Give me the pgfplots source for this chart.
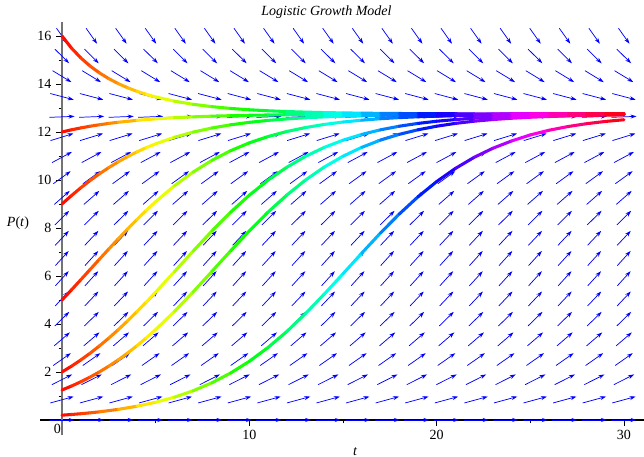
\documentclass[border=0pt]{standalone}
\usepackage{fontspec}
\setmainfont{Liberation Serif}
\usepackage{pgfplots}
\usepackage{pgfplotstable}
\pgfplotsset{compat=1.18}
\usetikzlibrary{arrows.meta}

% direction field: one row per P level, normalised arrow components (u,v)
\pgfplotstableread{
y u v
0 1.342 0
0.8421 1.247 0.265
1.6842 1.079 0.426
2.5263 0.937 0.513
3.3684 0.836 0.560
4.2105 0.770 0.586
5.0526 0.729 0.601
5.8947 0.710 0.608
6.7368 0.709 0.608
7.5789 0.726 0.602
8.4211 0.763 0.589
9.2632 0.825 0.565
10.1053 0.920 0.521
10.9474 1.056 0.442
11.7895 1.224 0.294
12.6316 1.340 0.042
13.4737 1.252 -0.258
14.3158 1.002 -0.476
15.1579 0.762 -0.589
16 0.585 -0.644
}\field

\pgfplotsset{
  colormap={maplehue}{rgb255(0cm)=(255,0,0) rgb255(1cm)=(255,255,0) rgb255(2cm)=(0,255,0)
    rgb255(3cm)=(0,255,255) rgb255(4cm)=(0,0,255) rgb255(5cm)=(255,0,255) rgb255(6cm)=(255,0,0)},
  solcurve/.style={mesh, point meta=x, line width=2.3pt, line cap=round, line join=round},
}

\begin{document}
\begin{tikzpicture}
\begin{axis}[
    x=14.05pt, y=18pt,
    xmin=-1.17, xmax=31.07, ymin=-0.63, ymax=16.6,
    axis lines=middle,
    clip=false,
    x axis line style={-, black, line width=0.8pt},
    y axis line style={-, black!55, line width=1.3pt},
    xtick={10,20,30}, minor xtick={5,15,25},
    extra x ticks={0},
    extra x tick style={xticklabel style={xshift=-3.5pt}, major tick length=0pt},
    ytick={2,4,...,16}, minor ytick={1,3,...,15},
    hide obscured x ticks=false,
    tick align=outside,
    major tick length=4.5pt, minor tick length=2.5pt,
    tick style={black, line width=0.6pt},
    ticklabel style={font=\rmfamily\fontsize{10.5}{12}\selectfont},
    /pgf/number format/assume math mode=true,
    colormap name=maplehue,
    point meta min=0, point meta max=30,
]
\pgfplotsinvokeforeach{0,...,19}{
  \addplot[blue, line width=0.55pt, -{Stealth[length=4.5pt,width=3pt]},
    quiver={u=\thisrow{u}, v=\thisrow{v}}]
    table[x expr={#1*30/19-0.5*\thisrow{u}}, y expr={\thisrow{y}-0.5*\thisrow{v}}] {\field};
}

\addplot[solcurve] coordinates {(0,0.2) (0.5,0.2284) (1,0.2607) (1.5,0.2975) (2,0.3394) (3,0.4409) (4,0.5715) (5,0.7385) (6,0.9502) (7,1.2164) (8,1.5483) (9,1.955) (10,2.444) (11,3.022) (12,3.685) (13,4.433) (14,5.245) (15,6.091) (16,6.950) (17,7.789) (18,8.578) (19,9.297) (20,9.933) (21,10.481) (22,10.944) (23,11.322) (24,11.626) (25,11.878) (26,12.073) (27,12.226) (28,12.346) (29,12.439) (30,12.511)};

\addplot[solcurve] coordinates {(0,1.25) (0.5,1.411) (1,1.589) (1.5,1.787) (2,2.004) (2.5,2.243) (3,2.503) (3.5,2.786) (4,3.091) (4.5,3.419) (5,3.767) (6,4.520) (7,5.335) (8,6.187) (9,7.046) (10,7.879) (11,8.662) (12,9.371) (13,9.999) (14,10.539) (15,10.989) (16,11.360) (17,11.661) (18,11.901) (19,12.091) (20,12.241) (21,12.358) (22,12.449) (23,12.519) (24,12.572) (25,12.614) (26,12.646) (27,12.670) (28,12.689) (29,12.703) (30,12.714)};

\addplot[solcurve] coordinates {(0,2) (0.5,2.238) (1,2.498) (1.5,2.781) (2,3.086) (2.5,3.412) (3,3.760) (3.5,4.127) (4,4.513) (4.5,4.914) (5,5.328) (6,6.178) (7,7.036) (8,7.872) (9,8.656) (10,9.367) (11,9.994) (12,10.531) (13,10.985) (14,11.358) (15,11.658) (16,11.899) (17,12.090) (18,12.240) (19,12.357) (20,12.448) (21,12.518) (22,12.572) (23,12.614) (24,12.645) (25,12.670) (26,12.689) (27,12.703) (28,12.714) (29,12.723) (30,12.729)};

\addplot[solcurve] coordinates {(0,5) (0.5,5.416) (1,5.840) (1.5,6.269) (2,6.699) (2.5,7.126) (3,7.546) (3.5,7.956) (4,8.353) (4.5,8.734) (5,9.096) (6,9.757) (7,10.331) (8,10.817) (9,11.220) (10,11.547) (11,11.811) (12,12.020) (13,12.185) (14,12.315) (15,12.415) (16,12.492) (17,12.553) (18,12.599) (19,12.634) (20,12.661) (21,12.682) (22,12.698) (23,12.710) (24,12.720) (25,12.727) (26,12.732) (27,12.737) (28,12.740) (29,12.742) (30,12.744)};

\addplot[solcurve] coordinates {(0,9) (0.5,9.347) (1,9.673) (1.5,9.977) (2,10.259) (2.5,10.518) (3,10.756) (3.5,10.973) (4,11.170) (4.5,11.347) (5,11.507) (6,11.779) (7,11.995) (8,12.166) (9,12.299) (10,12.403) (11,12.483) (12,12.545) (13,12.593) (14,12.630) (15,12.658) (16,12.680) (17,12.696) (18,12.709) (19,12.719) (20,12.726) (21,12.732) (22,12.736) (23,12.739) (24,12.742) (25,12.744) (26,12.745) (27,12.746) (28,12.747) (29,12.748) (30,12.748)};

\addplot[solcurve] coordinates {(0,12) (0.5,12.090) (1,12.169) (1.5,12.240) (2,12.302) (2.5,12.357) (3,12.405) (4,12.485) (5,12.547) (6,12.594) (7,12.631) (8,12.659) (9,12.680) (10,12.697) (11,12.709) (12,12.719) (13,12.726) (14,12.732) (15,12.736) (16,12.739) (17,12.742) (18,12.744) (19,12.745) (20,12.746) (21,12.747) (22,12.748) (23,12.748) (24,12.749) (25,12.749) (26,12.749) (27,12.750) (28,12.750) (29,12.750) (30,12.750)};

\addplot[solcurve] coordinates {(0,16) (0.5,15.501) (1,15.090) (1.5,14.748) (2,14.462) (2.5,14.221) (3,14.017) (3.5,13.843) (4,13.695) (4.5,13.568) (5,13.459) (6,13.284) (7,13.154) (8,13.056) (9,12.982) (10,12.926) (11,12.884) (12,12.852) (13,12.828) (14,12.809) (15,12.795) (16,12.785) (17,12.776) (18,12.770) (19,12.765) (20,12.762) (21,12.759) (22,12.757) (23,12.755) (24,12.754) (25,12.753) (26,12.752) (27,12.752) (28,12.751) (29,12.751) (30,12.751)};

\node[font=\fontsize{10.5}{12}\selectfont\itshape] at (axis cs:14.12,16.98) {Logistic Growth Model};
\node[font=\fontsize{10.5}{12}\selectfont\itshape] at (axis cs:15.64,-1.32) {t};
\node[font=\fontsize{10.5}{12}\selectfont] at (axis cs:-2.35,8.22) {\textit{P}(\textit{t})};
\coordinate (bbsw) at (axis cs:-3.31,-1.542);
\coordinate (bbne) at (axis cs:31.07,17.5);
\end{axis}
\pgfresetboundingbox
\useasboundingbox (bbsw) rectangle (bbne);
\end{tikzpicture}
\end{document}
